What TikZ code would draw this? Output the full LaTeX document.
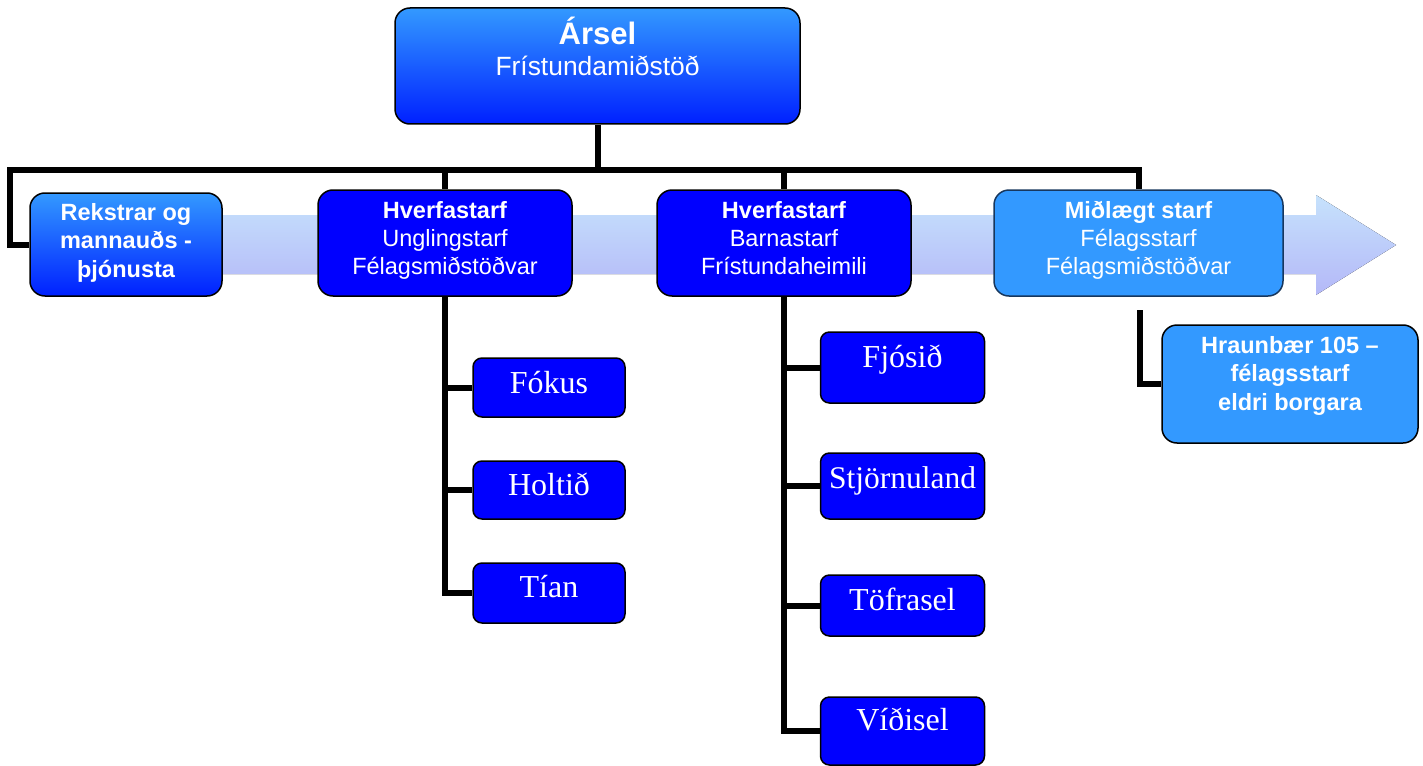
\documentclass[tikz,border=0pt]{standalone}
\usepackage{fontspec}
\setmainfont{Liberation Sans}
\newfontfamily\serifx{Liberation Serif}
\definecolor{cTop}{HTML}{3399FF}
\definecolor{cBot}{HTML}{0020FF}
\definecolor{cBlue}{HTML}{0000FF}
\definecolor{cLight}{HTML}{3399FF}
\definecolor{cNavy}{HTML}{17375E}
\definecolor{bandTop}{HTML}{C6E2FC}
\definecolor{bandBot}{HTML}{B4B8F8}
\pgfdeclarelayer{bandlayer}
\pgfdeclarelayer{connlayer}
\pgfsetlayers{bandlayer,connlayer,main}
\begin{document}
\begin{tikzpicture}[x=1pt,y=-1pt,
  box/.style={draw=black, line width=1.5pt, rounded corners=15pt, inner sep=0pt},
  gradbox/.style={box, top color=cTop, bottom color=cBot},
  bluebox/.style={box, fill=cBlue},
  lightbox/.style={box, fill=cLight, draw=cNavy},
  leafbox/.style={box, fill=cBlue, rounded corners=9pt},
  linetxt/.style={text=white, anchor=base, inner sep=0pt, font=\fontsize{23.5}{28}\selectfont},
  boldtxt/.style={linetxt, font=\fontsize{23.5}{28}\selectfont\bfseries},
  leaftxt/.style={text=white, anchor=base, inner sep=0pt, font=\serifx\fontsize{32}{34}\selectfont},
  conn/.style={line width=6pt, draw=black}
]
\useasboundingbox (0,0) rectangle (1423,765);

% background arrow
\begin{pgfonlayer}{bandlayer}
\fill[top color=bandTop, bottom color=bandBot]
  (100,215) -- (1316,215) -- (1316,195) -- (1396,245) -- (1316,295) -- (1316,274) -- (100,274) -- cycle;
\end{pgfonlayer}

% box shapes
\node[gradbox, minimum width=405pt, minimum height=116pt] (arsel) at (597.5,66) {};
\node[gradbox, minimum width=192pt, minimum height=103pt] (rek) at (126,244.5) {};
\node[bluebox, minimum width=254pt, minimum height=106pt] (hv1) at (445,243) {};
\node[bluebox, minimum width=254pt, minimum height=106pt] (hv2) at (784,243) {};
\node[lightbox, minimum width=289pt, minimum height=106pt] (midl) at (1138.5,243) {};
\node[box, fill=cLight, minimum width=256pt, minimum height=118pt] (hraun) at (1290,384) {};

\node[leafbox, minimum width=152pt, minimum height=59pt] (fokus) at (549,387.5) {};
\node[leafbox, minimum width=152pt, minimum height=58pt] (holtid) at (549,490) {};
\node[leafbox, minimum width=152pt, minimum height=60pt] (tian) at (549,593) {};

\node[leafbox, minimum width=164pt, minimum height=71pt] (fjosid) at (902.5,367.5) {};
\node[leafbox, minimum width=164pt, minimum height=66pt] (stjorn) at (902.5,486) {};
\node[leafbox, minimum width=164pt, minimum height=61pt] (tofra) at (902.5,605.5) {};
\node[leafbox, minimum width=164pt, minimum height=68pt] (vidi) at (902.5,731) {};

% texts
\node[linetxt, font=\fontsize{31}{33}\selectfont\bfseries] (arselA) at (597.5,45) {Ársel};
\node[linetxt, font=\fontsize{26.4}{30}\selectfont] (arselB) at (597.5,76) {Frístundamiðstöð};

\node[boldtxt] (rekA) at (126,220) {Rekstrar og};
\node[boldtxt] (rekB) at (126,248.5) {mannauðs -};
\node[boldtxt] (rekC) at (126,277) {þjónusta};

\node[boldtxt] (hv1A) at (445,218.5) {Hverfastarf};
\node[linetxt] (hv1B) at (445,246.5) {Unglingstarf};
\node[linetxt] (hv1C) at (445,274.5) {Félagsmiðstöðvar};

\node[boldtxt] (hv2A) at (784,218.5) {Hverfastarf};
\node[linetxt] (hv2B) at (784,246.5) {Barnastarf};
\node[linetxt] (hv2C) at (784,274.5) {Frístundaheimili};

\node[boldtxt] (midlA) at (1138.5,218.5) {Miðlægt starf};
\node[linetxt] (midlB) at (1138.5,246.5) {Félagsstarf};
\node[linetxt] (midlC) at (1138.5,274.5) {Félagsmiðstöðvar};

\node[boldtxt] (hraunA) at (1290,353) {Hraunbær 105 –};
\node[boldtxt] (hraunB) at (1290,381.5) {félagsstarf};
\node[boldtxt] (hraunC) at (1290,410) {eldri borgara};

\node[leaftxt] (fokusT) at (549,393) {Fókus};
\node[leaftxt] (holtidT) at (549,495) {Holtið};
\node[leaftxt] (tianT) at (549,597) {Tían};
\node[leaftxt] (fjosidT) at (902.5,367) {Fjósið};
\node[leaftxt, font=\serifx\fontsize{31.5}{34}\selectfont] (stjornT) at (902.5,488) {Stjörnuland};
\node[leaftxt] (tofraT) at (902.5,610) {Töfrasel};
\node[leaftxt] (vidiT) at (902.5,730) {Víðisel};

% connectors
\coordinate (busL) at (10,170);
\coordinate (hstart) at (1140,310);
\begin{pgfonlayer}{connlayer}
\draw[conn] (rek.west) -| (busL) -- (midl.north |- busL) -- (midl.north);
\draw[conn] (arsel.south) -- (arsel.south |- busL);
\draw[conn] (hv1.north |- busL) -- (hv1.north);
\draw[conn] (hv2.north |- busL) -- (hv2.north);
\draw[conn] (hv1.south) |- (fokus.west);
\draw[conn] (hv1.south) |- (holtid.west);
\draw[conn] (hv1.south) |- (tian.west);
\draw[conn] (hv2.south) |- (fjosid.west);
\draw[conn] (hv2.south) |- (stjorn.west);
\draw[conn] (hv2.south) |- (tofra.west);
\draw[conn] (hv2.south) |- (vidi.west);
\draw[conn] (hstart) |- (hraun.west);
\end{pgfonlayer}
\end{tikzpicture}
\end{document}
